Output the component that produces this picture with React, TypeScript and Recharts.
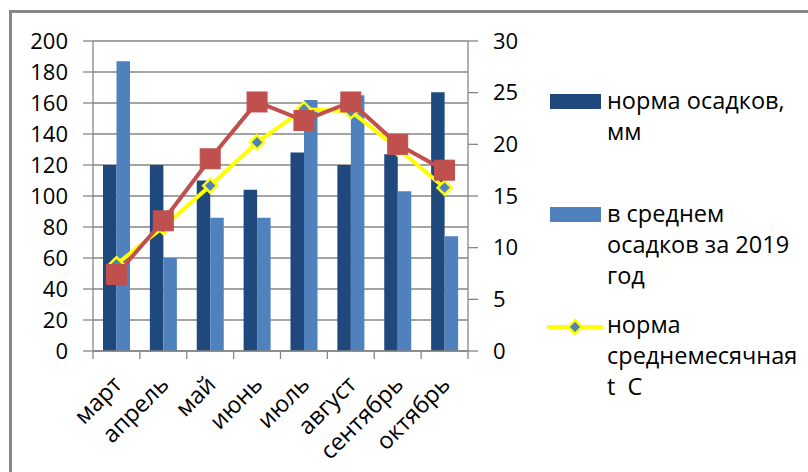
import React from "react";
import { ComposedChart, Bar, Line, XAxis, YAxis, CartesianGrid, Legend } from "recharts";

const months = ["март", "апрель", "май", "июнь", "июль", "август", "сентябрь", "октябрь"];
const normPrecip = [120, 120, 110, 104, 128, 120, 127, 167];
const precip2019 = [187, 60, 86, 86, 162, 165, 103, 74];
const normTemp = [8.4, 12, 16, 20.2, 23.4, 23.2, 19.6, 15.8];
const temp2019 = [7.4, 12.6, 18.6, 24.1, 22.3, 24.1, 20, 17.5];

const leftTicks = [0, 20, 40, 60, 80, 100, 120, 140, 160, 180, 200];
const rightTicks = [0, 5, 10, 15, 20, 25, 30];

const data = months.map((m, i) => ({
  month: m,
  normPrecip: normPrecip[i],
  precip2019: precip2019[i],
  normTemp: normTemp[i],
  temp2019: temp2019[i],
}));

const GRAY = "#868686";
const DARK = "#1F497D";
const LIGHT = "#4F81BD";
const YELLOW = "#FFFF00";
const RED = "#C0504D";
const FONT = "'Open Sans', Lato, sans-serif";

const PLOT_LEFT = 93;
const PLOT_RIGHT = 468;
const PLOT_BOTTOM = 351;
const BAND = (PLOT_RIGHT - PLOT_LEFT) / months.length;

function MonthTick(props: any) {
  const { x, payload, index } = props;
  const ax = x + 7;
  const ay = 386;
  return (
    <g>
      <line x1={x - BAND / 2} x2={x - BAND / 2} y1={PLOT_BOTTOM} y2={PLOT_BOTTOM + 8} stroke={GRAY} strokeWidth={1.3} />
      {index === months.length - 1 && (
        <line x1={x + BAND / 2} x2={x + BAND / 2} y1={PLOT_BOTTOM} y2={PLOT_BOTTOM + 8} stroke={GRAY} strokeWidth={1.3} />
      )}
      <text x={ax} y={ay} textAnchor="end" transform={`rotate(-45, ${ax}, ${ay})`} fontSize={23.5} fontFamily={FONT} fill="#000">
        {payload.value}
      </text>
    </g>
  );
}

function SquareDot(props: any) {
  const { cx, cy, index } = props;
  return <rect key={`sq-${index}`} x={cx - 10} y={cy - 10} width={20} height={20} fill={RED} stroke={RED} strokeWidth={1} />;
}

function DiamondDot(props: any) {
  const { cx, cy, index } = props;
  const r = 7;
  return (
    <path
      key={`dm-${index}`}
      d={`M${cx},${cy - r} L${cx + r},${cy} L${cx},${cy + r} L${cx - r},${cy} Z`}
      fill={LIGHT}
      stroke={YELLOW}
      strokeWidth={2.5}
    />
  );
}

const legendText: React.CSSProperties = {
  position: "absolute",
  left: 60,
  fontFamily: FONT,
  fontSize: 23.5,
  lineHeight: "31px",
  color: "#000",
  whiteSpace: "nowrap",
};

function renderLegend() {
  return (
    <div style={{ position: "relative", width: 260, height: 330 }}>
      <div style={{ position: "absolute", left: 3, top: 4, width: 51, height: 15, background: DARK }} />
      <div style={{ ...legendText, top: -5 }}>
        норма осадков,
        <br />
        мм
      </div>
      <div style={{ position: "absolute", left: 3, top: 117, width: 51, height: 15, background: LIGHT }} />
      <div style={{ ...legendText, top: 108 }}>
        в среднем
        <br />
        осадков за 2019
        <br />
        год
      </div>
      <svg style={{ position: "absolute", left: 0, top: 225 }} width={60} height={24}>
        <line x1={0} x2={56} y1={12} y2={12} stroke={YELLOW} strokeWidth={4} />
        <path d="M28,5 L35,12 L28,19 L21,12 Z" fill={LIGHT} stroke={YELLOW} strokeWidth={2.5} />
      </svg>
      <div style={{ ...legendText, top: 219 }}>
        норма
        <br />
        среднемесячная
        <br />
        t&nbsp;&nbsp;C
      </div>
    </div>
  );
}

export default function App() {
  return (
    <div style={{ position: "fixed", left: 0, top: 0, width: 808, height: 472, background: "#fff", overflow: "hidden" }}>
      <div style={{ position: "absolute", left: 9, top: 10, width: 799, height: 3, background: GRAY }} />
      <div style={{ position: "absolute", left: 9, top: 10, width: 3, height: 462, background: GRAY }} />
      <div style={{ position: "absolute", left: 0, top: 0 }}>
        <ComposedChart
          width={808}
          height={472}
          data={data}
          margin={{ top: 41, right: 808 - 530, bottom: 0, left: 0 }}
          barGap={0}
          barSize={13.5}
        >
          <CartesianGrid yAxisId="left" horizontal vertical={false} stroke={GRAY} strokeWidth={1.3} />
          <XAxis
            dataKey="month"
            height={472 - PLOT_BOTTOM}
            axisLine={{ stroke: GRAY, strokeWidth: 1.3 }}
            tickLine={false}
            tick={<MonthTick />}
            interval={0}
          />
          <YAxis
            yAxisId="left"
            orientation="left"
            width={PLOT_LEFT}
            domain={[0, 200]}
            ticks={leftTicks}
            interval={0}
            tickSize={10}
            tickMargin={15}
            axisLine={{ stroke: GRAY, strokeWidth: 1.3 }}
            tickLine={{ stroke: GRAY, strokeWidth: 1.3 }}
            tick={{ fontSize: 22, fontFamily: FONT, fill: "#000" }}
          />
          <YAxis
            yAxisId="right"
            orientation="right"
            width={530 - PLOT_RIGHT}
            domain={[0, 30]}
            ticks={rightTicks}
            interval={0}
            tickSize={10}
            tickMargin={15}
            axisLine={{ stroke: GRAY, strokeWidth: 1.3 }}
            tickLine={{ stroke: GRAY, strokeWidth: 1.3 }}
            tick={{ fontSize: 22, fontFamily: FONT, fill: "#000", textAnchor: "start" }}
          />
          <Bar yAxisId="left" dataKey="normPrecip" name="норма осадков, мм" fill={DARK} isAnimationActive={false} />
          <Bar yAxisId="left" dataKey="precip2019" name="в среднем осадков за 2019 год" fill={LIGHT} isAnimationActive={false} />
          <Line
            yAxisId="right"
            dataKey="normTemp"
            name="норма среднемесячная t C"
            stroke={YELLOW}
            strokeWidth={4}
            dot={DiamondDot}
            activeDot={false}
            isAnimationActive={false}
          />
          <Line
            yAxisId="right"
            dataKey="temp2019"
            name="t 2019"
            stroke={RED}
            strokeWidth={4}
            dot={SquareDot}
            activeDot={false}
            isAnimationActive={false}
          />
          <Legend
            layout="vertical"
            align="center"
            verticalAlign="middle"
            content={renderLegend}
            wrapperStyle={{ position: "absolute", left: 547, top: 90, width: 260, height: 330 }}
          />
        </ComposedChart>
      </div>
    </div>
  );
}
